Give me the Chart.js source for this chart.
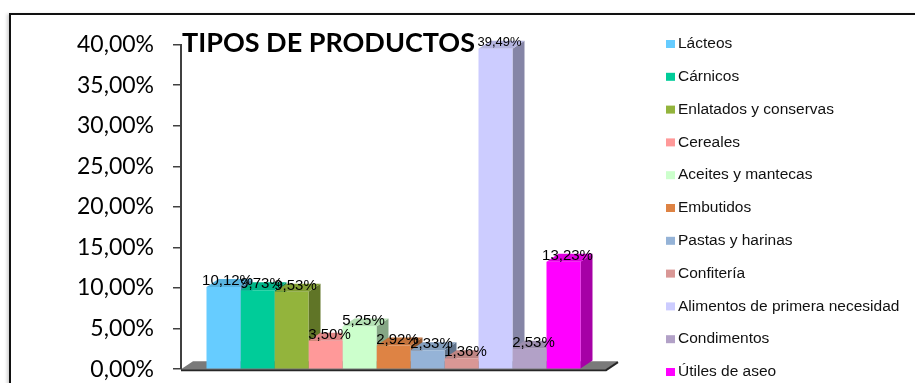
<!DOCTYPE html>
<html lang="es">
<head>
<meta charset="utf-8">
<title>Tipos de productos</title>
<script src="https://cdn.jsdelivr.net/npm/chart.js@4.4.0/dist/chart.umd.min.js"></script>
<style>
    html, body { margin: 0; padding: 0; background: #fff; overflow: hidden; }
    #frame {
        position: absolute; left: 9px; top: 13px; width: 1000px; height: 500px;
        border-top: 2px solid #111; border-left: 2px solid #111;
        box-shadow: -2px 1px 3px rgba(0, 0, 0, 0.18);
    }
    #chartCanvas { position: absolute; left: 0; top: 0; }
</style>
</head>
<body>
<div id="frame"></div>
<!-- the frame continues below the visible window, so the canvas does too -->
<canvas id="chartCanvas" width="915" height="402"></canvas>
<script>
const categories = [
    'Lácteos', 'Cárnicos', 'Enlatados y conservas', 'Cereales', 'Aceites y mantecas',
    'Embutidos', 'Pastas y harinas', 'Confitería', 'Alimentos de primera necesidad',
    'Condimentos', 'Útiles de aseo'
];
const values = [10.12, 9.73, 9.53, 3.50, 5.25, 2.92, 2.33, 1.36, 39.49, 2.53, 13.23];
const frontColors = [
    '#66CCFF', '#00CC99', '#93B43C', '#FF9999', '#CCFFCC', '#DE8344',
    '#95B3D7', '#D99795', '#CCCCFF', '#B2A1C7', '#FF00FF'
];
const yTicks = [0, 5, 10, 15, 20, 25, 30, 35, 40];

const chartTitle = 'TIPOS DE PRODUCTOS';

// depth of the 3d faces, in pixels
const DX = 12;
const DY = 8;

function shade(hex, f) {
    const n = parseInt(hex.slice(1), 16);
    const r = Math.round(((n >> 16) & 255) * f);
    const g = Math.round(((n >> 8) & 255) * f);
    const b = Math.round((n & 255) * f);
    return 'rgb(' + r + ',' + g + ',' + b + ')';
}

function pct(v) {
    return v.toFixed(2).replace('.', ',') + '%';
}

// floor, side and top faces go under the front faces drawn by Chart.js
const depthPlugin = {
    id: 'depth',
    beforeDatasetsDraw(chart) {
        const ctx = chart.ctx;
        const area = chart.chartArea;
        const base = chart.scales.y.getPixelForValue(0);

        ctx.save();
        ctx.fillStyle = '#7A7A7A';
        ctx.beginPath();
        ctx.moveTo(area.left, base);
        ctx.lineTo(area.right, base);
        ctx.lineTo(area.right + DX, base - DY);
        ctx.lineTo(area.left + DX, base - DY);
        ctx.closePath();
        ctx.fill();

        ctx.strokeStyle = '#262626';
        ctx.lineWidth = 2;
        ctx.beginPath();
        ctx.moveTo(area.left, base + 1);
        ctx.lineTo(area.right, base + 1);
        ctx.lineTo(area.right + DX, base - DY + 1);
        ctx.stroke();

        chart.data.datasets.forEach((ds, i) => {
            const bar = chart.getDatasetMeta(i).data[0];
            const l = bar.x - bar.width / 2;
            const r = bar.x + bar.width / 2;
            const t = bar.y;
            const b = bar.base;

            ctx.fillStyle = ds.sideColor;
            ctx.beginPath();
            ctx.moveTo(r, b);
            ctx.lineTo(r, t);
            ctx.lineTo(r + DX, t - DY);
            ctx.lineTo(r + DX, b - DY);
            ctx.closePath();
            ctx.fill();

            ctx.fillStyle = ds.topColor;
            ctx.beginPath();
            ctx.moveTo(l, t);
            ctx.lineTo(r, t);
            ctx.lineTo(r + DX, t - DY);
            ctx.lineTo(l + DX, t - DY);
            ctx.closePath();
            ctx.fill();
        });
        ctx.restore();
    },
    afterDatasetsDraw(chart) {
        const ctx = chart.ctx;
        ctx.save();
        ctx.fillStyle = '#000';
        ctx.textAlign = 'center';
        ctx.textBaseline = 'middle';
        chart.data.datasets.forEach((ds, i) => {
            const bar = chart.getDatasetMeta(i).data[0];
            ctx.font = ds.labelSize + 'px "Liberation Sans", Arial, sans-serif';
            ctx.fillText(pct(ds.data[0]), bar.x + 4, bar.y - 6);
        });
        ctx.restore();
    },
    afterDraw(chart) {
        const ctx = chart.ctx;
        ctx.save();

        // title sits over the top of the plot
        ctx.fillStyle = '#000';
        ctx.font = 'bold 27px Lato, sans-serif';
        ctx.textAlign = 'left';
        ctx.textBaseline = 'alphabetic';
        ctx.fillText(chartTitle, 182, 52);

        // legend on the right
        ctx.font = '15.5px "Liberation Sans", Arial, sans-serif';
        ctx.textBaseline = 'middle';
        chart.data.datasets.forEach((ds, i) => {
            const y = 44 + i * 32.8;
            ctx.fillStyle = ds.backgroundColor;
            ctx.fillRect(666, y - 4, 9, 8);
            ctx.fillStyle = '#111';
            ctx.fillText(ds.label, 678, y);
        });
        ctx.restore();
    }
};

const datasets = categories.map((name, i) => ({
    label: name,
    data: [values[i]],
    backgroundColor: frontColors[i],
    sideColor: shade(frontColors[i], 0.65),
    topColor: shade(frontColors[i], 0.88),
    labelSize: values[i] > 35 ? 13 : 15,
    borderWidth: 0,
    categoryPercentage: 0.88,
    barPercentage: 1
}));

new Chart(document.getElementById('chartCanvas'), {
    type: 'bar',
    data: {
        labels: [''],
        datasets: datasets
    },
    options: {
        responsive: false,
        animation: false,
        events: [],
        layout: {
            padding: {left: 0, right: 309, top: 44.5, bottom: 2}
        },
        plugins: {
            legend: {display: false},
            tooltip: {enabled: false}
        },
        scales: {
            x: {display: false},
            y: {
                min: 0,
                max: 40,
                afterFit(scale) {
                    scale.width = 181;
                },
                afterBuildTicks(scale) {
                    scale.ticks = yTicks.map((v) => ({value: v}));
                },
                ticks: {
                    padding: 19,
                    color: '#000',
                    font: {family: 'Lato', size: 23},
                    callback: (v) => pct(v)
                },
                grid: {
                    drawOnChartArea: false,
                    drawTicks: true,
                    tickLength: 8,
                    color: '#404040',
                    lineWidth: 1.5
                },
                border: {display: true, color: '#404040', width: 2}
            }
        }
    },
    plugins: [depthPlugin]
});
</script>
</body>
</html>
